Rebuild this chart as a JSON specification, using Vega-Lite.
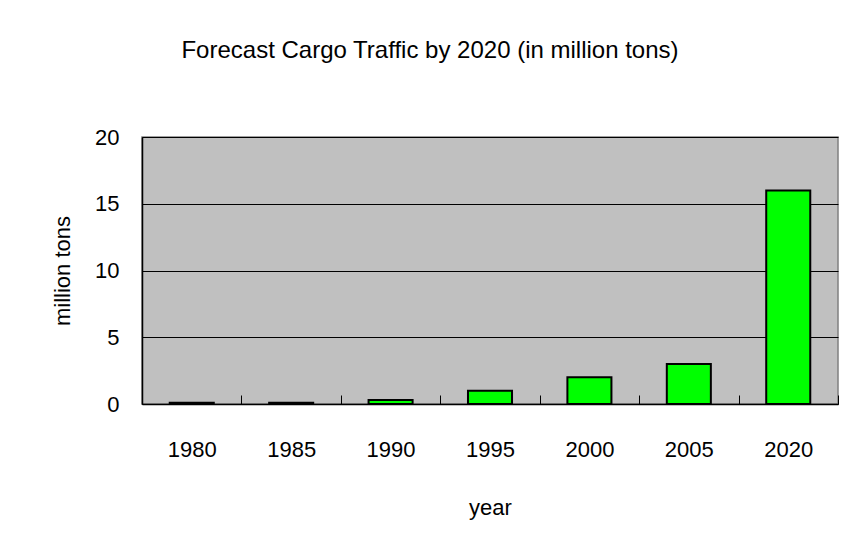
{
  "$schema": "https://vega.github.io/schema/vega-lite/v6.json",
  "autosize": "none",
  "width": 696,
  "height": 267,
  "padding": {"left": 142, "top": 137, "right": 13, "bottom": 149},
  "background": "white",
  "title": {
    "text": "Forecast Cargo Traffic by 2020 (in million tons)",
    "font": "Liberation Sans",
    "fontSize": 24,
    "fontWeight": "normal",
    "color": "black",
    "anchor": "middle",
    "frame": "group",
    "dx": -60,
    "offset": 63
  },
  "data": {
    "values": [
      {"year": "1980", "tons": 0.1},
      {"year": "1985", "tons": 0.1},
      {"year": "1990", "tons": 0.3},
      {"year": "1995", "tons": 1.0},
      {"year": "2000", "tons": 2.0},
      {"year": "2005", "tons": 3.0},
      {"year": "2020", "tons": 16.0}
    ]
  },
  "mark": {"type": "bar", "color": "#00FF00", "stroke": "black", "strokeWidth": 2},
  "encoding": {
    "x": {
      "field": "year",
      "type": "ordinal",
      "sort": null,
      "title": "year",
      "scale": {"paddingInner": 0.557, "paddingOuter": 0.279},
      "axis": {
        "labelAngle": 0,
        "tickBand": "center",
        "tickOffset": 49.7,
        "labelOffset": -49.7,
        "tickSize": -9,
        "tickColor": "black",
        "domainColor": "black",
        "domainWidth": 1.5,
        "labelPadding": 44,
        "titlePadding": 37
      }
    },
    "y": {
      "field": "tons",
      "type": "quantitative",
      "title": "million tons",
      "scale": {"domain": [0, 20]},
      "axis": {
        "values": [0, 5, 10, 15, 20],
        "tickSize": -9,
        "tickColor": "black",
        "domainColor": "black",
        "domainWidth": 1.5,
        "gridColor": "black",
        "gridWidth": 1,
        "labelPadding": 32,
        "titlePadding": 20
      }
    }
  },
  "config": {
    "view": {"fill": "#C0C0C0", "stroke": "#808080", "strokeWidth": 1.5},
    "axis": {
      "labelFont": "Liberation Sans",
      "labelFontSize": 22,
      "labelColor": "black",
      "titleFont": "Liberation Sans",
      "titleFontSize": 22,
      "titleFontWeight": "normal",
      "titleColor": "black"
    }
  }
}
